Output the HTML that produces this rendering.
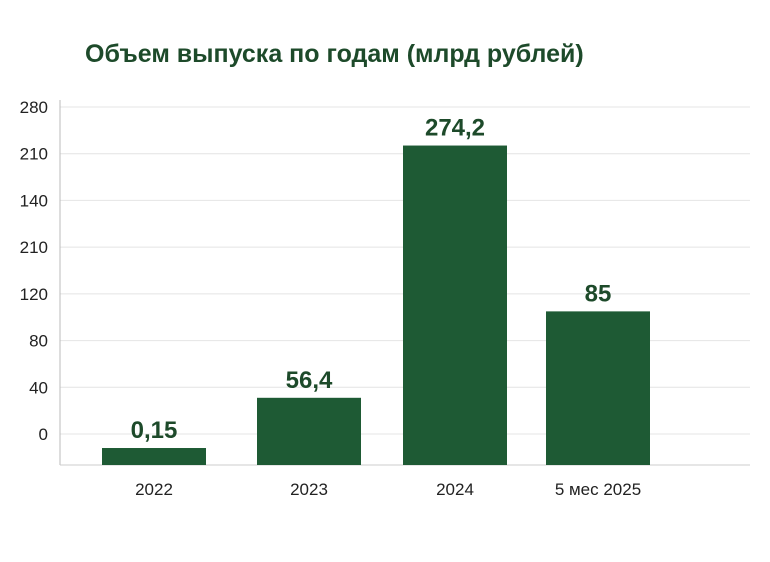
<!DOCTYPE html>
<html><head><meta charset="utf-8"><style>
body{margin:0;background:#fff;width:770px;height:557px;overflow:hidden;font-family:"Liberation Sans",sans-serif}
</style></head><body>
<svg width="770" height="557">
<text x="85" y="62" font-size="25" font-weight="bold" fill="#1d4a2a">Объем выпуска по годам (млрд рублей)</text>
<g id="grid"></g><g id="bars"></g>
</svg>
<script>
const categories=["2022","2023","2024","5 мес 2025"];
const barValues=[-12,31,247,105];
const valueLabels=["0,15","56,4","274,2","85"];
const tickValues=[0,40,80,120,160,200,240,280];
const tickLabels=["0","40","80","120","210","140","210","280"];
const NS="http://www.w3.org/2000/svg";
const y0=434,pxPer=(434-107)/280,base=465;
const y=v=>y0-v*pxPer;
const barX=[102,257,403,546],bw=104;
const grid=document.getElementById('grid'),bars=document.getElementById('bars');
function mk(tag,attrs,parent,txt){const e=document.createElementNS(NS,tag);for(const k in attrs)e.setAttribute(k,attrs[k]);if(txt!=null)e.textContent=txt;parent.appendChild(e);return e;}
tickValues.forEach((t,i)=>{
 const l=mk('line',{x1:60,x2:750,y1:y(t),y2:y(t),stroke:'#e4e4e4','stroke-width':1},grid);
 
 
 const tx=mk('text',{x:48,y:y(t)+6,'text-anchor':'end','font-size':17,fill:'#222'},grid,tickLabels[i]);
 
 
});
const ax=mk('line',{x1:60,x2:60,y1:100,y2:base,stroke:'#bbb','stroke-width':1},grid);


const bx=mk('line',{x1:60,x2:750,y1:base,y2:base,stroke:'#ccc','stroke-width':1},grid);


categories.forEach((c,i)=>{
 const top=y(barValues[i]);
 const r=mk('rect',{x:barX[i],y:top,width:bw,height:base-top,fill:'#1e5a34'},bars);
 
 
 const v=mk('text',{x:barX[i]+bw/2,y:top-10,'text-anchor':'middle','font-size':24,'font-weight':'bold',fill:'#1d4a2a'},bars,valueLabels[i]);
 
 
 const xl=mk('text',{x:barX[i]+bw/2,y:495,'text-anchor':'middle','font-size':17,fill:'#222'},bars,c);
 
 
});
</script>
</body></html>
